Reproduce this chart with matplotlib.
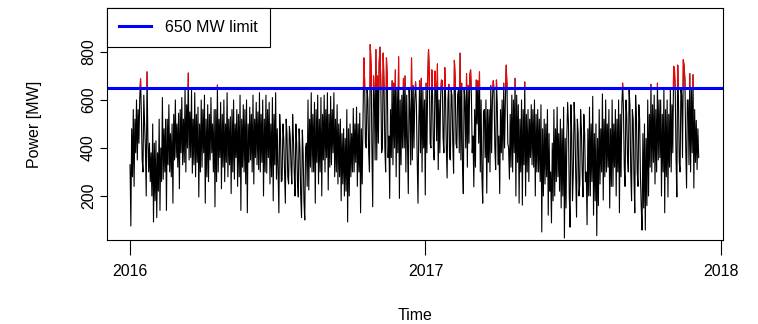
import numpy as np
import matplotlib
matplotlib.use("Agg")
import matplotlib.pyplot as plt
from matplotlib.patches import Rectangle

plt.rcParams['font.family'] = ['Liberation Sans', 'DejaVu Sans']

# outer swings of the daily power series from 2016-01-01 (MW)
power_outer = [
    330, 75, 560, 240, 600, 350, 610, 688, 300, 620, 200, 717, 420, 260, 500, 92, 430, 110, 520, 140,
    610, 270, 520, 140, 580, 300, 500, 170, 600, 360, 545, 230, 610, 330, 650, 300, 712, 350, 640, 295,
    630, 280, 570, 196, 600, 320, 620, 170, 580, 260, 610, 380, 560, 155, 662, 300, 590, 230, 600, 260,
    630, 280, 530, 210, 600, 270, 560, 240, 620, 140, 580, 300, 600, 130, 570, 350, 620, 250, 590, 330,
    630, 300, 600, 200, 620, 295, 590, 250, 610, 180, 630, 270, 130, 540, 265, 500, 170, 520, 250, 490,
    250, 540, 200, 500, 196, 480, 110, 475, 100, 400, 600, 225, 630, 300, 590, 170, 620, 250, 610, 200,
    620, 300, 630, 225, 615, 330, 630, 280, 580, 250, 520, 180, 480, 200, 560, 92, 500, 280, 565, 300,
    570, 240, 545, 130, 500, 775, 400, 650, 300, 830, 155, 700, 810, 350, 755, 820, 400, 795, 300, 775,
    450, 190, 680, 330, 725, 280, 780, 190, 620, 400, 700, 300, 210, 650, 775, 350, 600, 675, 170, 500,
    690, 300, 600, 204, 680, 810, 400, 725, 350, 720, 750, 310, 620, 683, 380, 735, 275, 600, 350, 640,
    295, 765, 400, 620, 795, 350, 210, 650, 710, 320, 700, 725, 450, 238, 683, 500, 717, 300, 170, 550,
    600, 212, 560, 300, 600, 680, 310, 683, 450, 210, 600, 350, 590, 745, 400, 270, 620, 300, 690, 200,
    580, 170, 600, 162, 675, 200, 560, 260, 580, 330, 600, 200, 560, 300, 580, 50, 520, 250, 560, 120,
    300, 88, 560, 200, 570, 280, 520, 150, 570, 25, 450, 590, 70, 580, 300, 590, 112, 520, 250, 560,
    196, 540, 300, 80, 570, 200, 615, 120, 500, 35, 560, 250, 625, 183, 600, 300, 560, 150, 600, 240,
    560, 200, 600, 130, 580, 670, 240, 600, 300, 640, 180, 560, 130, 620, 240, 580, 150, 58, 500, 58,
    600, 200, 665, 300, 620, 250, 670, 350, 600, 200, 650, 130, 600, 196, 650, 300, 740, 730, 196, 745,
    300, 650, 767, 740, 233, 600, 710, 300, 705, 233, 515, 310,
]
# inner swings (high, low pairs) that fill the dense band (MW)
power_inner = [
    480, 280, 520, 380, 560, 420, 540, 350, 500, 400, 450, 300, 380, 200, 420, 180, 380, 220, 400, 260,
    480, 300, 520, 330, 460, 280, 540, 350, 500, 320, 560, 380, 520, 340, 580, 400, 550, 360, 520, 330,
    540, 340, 500, 300, 560, 380, 520, 280, 540, 350, 500, 300, 560, 260, 520, 360, 540, 320, 500, 340,
    520, 330, 560, 300, 500, 360, 540, 280, 520, 320, 560, 250, 500, 340, 540, 300, 520, 360, 550, 310,
    540, 340, 520, 300, 560, 360, 500, 280, 540, 330, 480, 300, 460, 260, 440, 300, 460, 280, 450, 320,
    440, 300, 420, 260, 400, 200, 380, 180, 420, 240, 520, 320, 540, 300, 560, 340, 520, 300, 540, 350,
    560, 360, 540, 320, 560, 380, 520, 300, 500, 280, 460, 250, 440, 220, 480, 200, 460, 300, 500, 340,
    500, 300, 480, 250, 680, 420, 600, 380, 740, 400, 620, 350, 700, 420, 670, 380, 660, 400, 690, 360,
    560, 360, 670, 400, 640, 380, 600, 330, 690, 400, 620, 420, 560, 330, 660, 400, 580, 350, 680, 380,
    640, 400, 670, 380, 700, 420, 620, 400, 660, 430, 600, 380, 680, 440, 620, 400, 665, 360, 620, 420,
    680, 420, 640, 380, 670, 330, 600, 400, 660, 420, 620, 380, 560, 320, 680, 420, 600, 280, 560, 360,
    560, 340, 660, 380, 640, 400, 580, 330, 560, 380, 670, 400, 660, 420, 540, 320, 600, 380, 620, 340,
    520, 300, 560, 330, 540, 300, 520, 360, 560, 320, 540, 300, 520, 260, 480, 200, 500, 280, 460, 220,
    420, 180, 480, 260, 460, 220, 480, 200, 440, 150, 500, 200, 460, 180, 500, 280, 460, 200, 480, 300,
    460, 260, 480, 200, 500, 260, 460, 180, 440, 160, 480, 300, 520, 280, 500, 320, 480, 240, 500, 320,
    520, 300, 540, 280, 560, 320, 540, 360, 580, 300, 520, 280, 540, 300, 520, 280, 460, 150, 440, 160,
    540, 320, 580, 340, 560, 300, 600, 360, 540, 300, 560, 280, 540, 320, 580, 380, 640, 360, 600, 340,
    620, 360, 680, 400, 600, 330, 640, 380, 560, 340, 480, 360,
]
limit = 650
year_ticks = [2016, 2017, 2018]
y_ticks = [200, 400, 600, 800]

# daily series: two outer swings followed by two inner swings
outer = np.array(power_outer, dtype=float).reshape(-1, 2)
inner = np.array(power_inner, dtype=float).reshape(-1, 2)
power = np.hstack([outer, inner]).ravel()
t = 2016 + np.arange(len(power)) / 365.25

fig = plt.figure(figsize=(7.58, 3.24), dpi=100)
ax = fig.add_axes([107/758, 1-240/324, 616/758, 232/324])

ax.plot(t, power, color='black', lw=0.8)
red, = ax.plot(t, power, color='red', lw=0.8)
clip = Rectangle((2015, limit), 5, 1000, transform=ax.transData)
red.set_clip_path(clip)
ax.axhline(limit, color='blue', lw=2.2, label='650 MW limit')

ax.set_xlim(2015.922, 2018.007)
ax.set_ylim(16.7, 983)
ax.set_xticks(year_ticks)
ax.set_xticklabels([str(y) for y in year_ticks], fontsize=11.5)
ax.set_yticks(y_ticks)
ax.set_yticklabels([str(v) for v in y_ticks], fontsize=11.5, rotation=90, va='center')
ax.tick_params(axis='x', length=11, width=0.8, pad=6)
ax.tick_params(axis='y', length=5, width=0.8, pad=3)
for s in ax.spines.values():
    s.set_linewidth(0.8)

ax.set_xlabel('Time', fontsize=11.5, labelpad=21)
ax.set_ylabel('Power [MW]', fontsize=11.5, labelpad=28)

leg = ax.legend(loc='upper left', fontsize=11.5, borderaxespad=0, fancybox=False,
                framealpha=1, edgecolor='black', handlelength=2.0, borderpad=0.75,
                handletextpad=0.9)
leg.get_frame().set_linewidth(0.8)

fig.savefig('out.png', dpi=100)
